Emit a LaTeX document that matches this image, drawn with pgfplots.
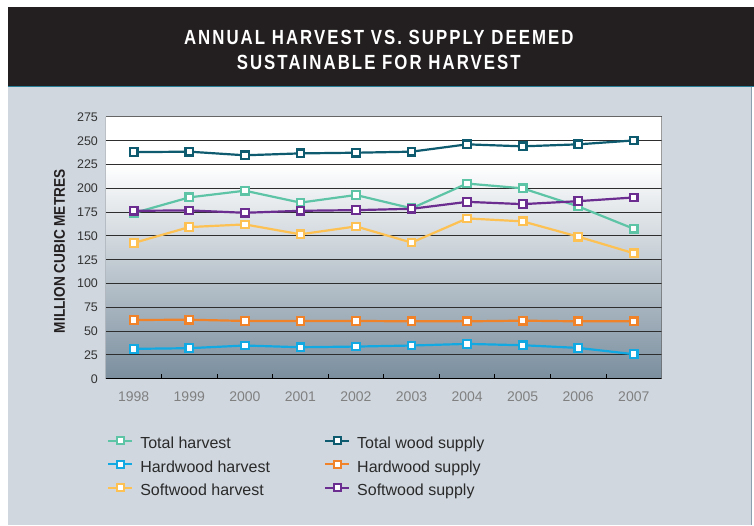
\documentclass[border=0pt]{standalone}
\usepackage{pgfplots}
\pgfplotsset{compat=1.18}
\usepackage{fontspec}
\setmainfont{Liberation Sans}
\newfontfamily\titlefont{Liberation Sans}[FakeStretch=0.82,LetterSpace=10]
\newfontfamily\condfont{Liberation Sans}[FakeStretch=0.88]
\definecolor{panel}{HTML}{D0D7DF}
\definecolor{panelborder}{HTML}{8C9FAE}
\definecolor{band}{HTML}{231F20}
\definecolor{tealline}{HTML}{2A7F98}
\definecolor{cTH}{HTML}{5EC4A6}
\definecolor{cTWS}{HTML}{0E5B70}
\definecolor{cHH}{HTML}{12A9E2}
\definecolor{cHS}{HTML}{F0832A}
\definecolor{cSH}{HTML}{FDC153}
\definecolor{cSS}{HTML}{6B2D8F}
\definecolor{gbot}{HTML}{7A8E9E}
\definecolor{gridc}{HTML}{2E2E2E}
\definecolor{xlab}{HTML}{808080}
\definecolor{ylab}{HTML}{333333}
\definecolor{legtext}{HTML}{2A2A2A}
\pgfdeclareverticalshading{bgshade}{100bp}{color(0bp)=(gbot); color(25bp)=(gbot); color(65.909bp)=(white); color(100bp)=(white)}
\begin{document}
\begin{tikzpicture}[x=1pt,y=1pt]
\fill[white] (0,0) rectangle (754,525);
\fill[panel] (8,0) rectangle (752,438);
\draw[panelborder,line width=1pt] (752,0) -- (752,438);
\fill[band] (8,438) rectangle (754,518);
\draw[tealline,line width=1pt] (8,438) -- (754,438);
\node[white,font=\titlefont\bfseries\fontsize{20.5}{24}\selectfont,inner sep=0pt] at (379,488) {ANNUAL HARVEST VS. SUPPLY DEEMED};
\node[white,font=\titlefont\bfseries\fontsize{20.5}{24}\selectfont,inner sep=0pt] at (379,463) {SUSTAINABLE FOR HARVEST};
\node[rotate=90,font=\condfont\bfseries\fontsize{15.5}{18}\selectfont,text=band,inner sep=0pt] at (59.5,273.5) {MILLION CUBIC METRES};
\begin{axis}[
  at={(106pt,146pt)}, anchor=south west,
  scale only axis, width=556pt, height=262pt,
  xmin=1997.5, xmax=2007.5, ymin=0, ymax=275,
  xtick={1998,1999,2000,2001,2002,2003,2004,2005,2006,2007},
  ytick={0,25,50,75,100,125,150,175,200,225,250,275},
  minor xtick={1998.5,1999.5,2000.5,2001.5,2002.5,2003.5,2004.5,2005.5,2006.5},
  major tick length=0pt, minor tick length=5pt,
  tick align=inside, tick pos=left,
  minor tick style={black,line width=1pt},
  axis line style={draw=none},
  axis background/.style={shading=bgshade},
  ymajorgrids, grid style={gridc,line width=0.9pt},
  /pgf/number format/assume math mode=true,
  xticklabel style={font=\fontsize{14}{16}\selectfont,text=xlab,/pgf/number format/1000 sep=,yshift=-9pt},
  yticklabel style={font=\fontsize{12.5}{15}\selectfont,text=ylab,xshift=-4.5pt},
  every axis plot/.append style={line width=2.2pt,mark=square*,mark size=3.8pt,mark options={fill=white,solid}},
  legend columns=2,
  legend style={at={(0.0018,-0.223)},anchor=north west,draw=none,fill=none,
    font=\fontsize{16}{19}\selectfont,text=legtext,inner sep=0pt,row sep=8.5pt,
    nodes={inner sep=0pt,text height=11.5pt,text depth=3.5pt},
    /tikz/every odd column/.append style={column sep=7pt},
    /tikz/every even column/.append style={column sep=54pt}},
  legend cell align=left,
  legend image code/.code={\draw[mark repeat=2,mark phase=2,mark size=3.5pt] plot coordinates {(0pt,4pt) (12pt,4pt) (24pt,4pt)};},
]
\addplot[cTH] coordinates {(1998,174) (1999,190.5) (2000,197.5) (2001,185) (2002,193) (2003,179) (2004,205) (2005,200) (2006,181) (2007,157.5)};
\addlegendentry{Total harvest}
\addplot[cTWS] coordinates {(1998,238) (1999,238.5) (2000,234.7) (2001,236.7) (2002,237.4) (2003,238.5) (2004,246.2) (2005,244.1) (2006,246.2) (2007,250.3)};
\addlegendentry{Total wood supply}
\addplot[cHH] coordinates {(1998,31.4) (1999,32.1) (2000,34.9) (2001,33.1) (2002,33.8) (2003,34.9) (2004,36.6) (2005,35.2) (2006,32.4) (2007,25.8)};
\addlegendentry{Hardwood harvest}
\addplot[cHS] coordinates {(1998,61.7) (1999,62) (2000,60.7) (2001,60.7) (2002,60.7) (2003,60.3) (2004,60.3) (2005,61) (2006,60.3) (2007,60.3)};
\addlegendentry{Hardwood supply}
\addplot[cSH] coordinates {(1998,142.6) (1999,159.3) (2000,162.1) (2001,151.7) (2002,160) (2003,143) (2004,168.4) (2005,165.3) (2006,149.2) (2007,131.8)};
\addlegendentry{Softwood harvest}
\addplot[cSS] coordinates {(1998,176.4) (1999,176.8) (2000,174.3) (2001,176.4) (2002,177.1) (2003,178.5) (2004,185.8) (2005,183.4) (2006,186.5) (2007,190.4)};
\addlegendentry{Softwood supply}
\draw[black,line width=1pt] (rel axis cs:0,1) -- (rel axis cs:0,0) -- (rel axis cs:1,0);
\draw[black!60,line width=1pt] (rel axis cs:0,1) -- (rel axis cs:1,1) -- (rel axis cs:1,0);
\end{axis}
\end{tikzpicture}
\end{document}
